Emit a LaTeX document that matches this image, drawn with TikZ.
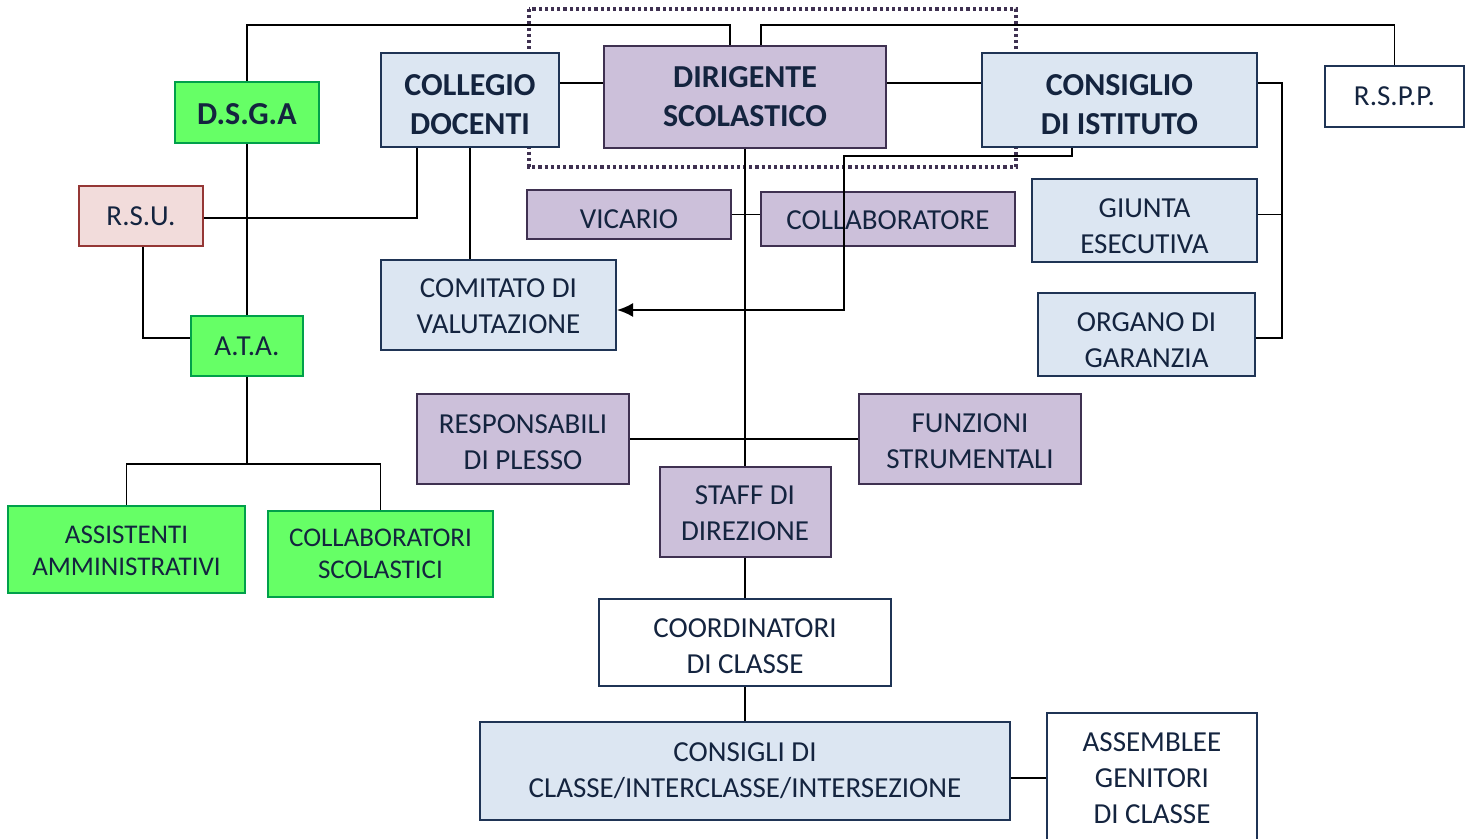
\documentclass[tikz,border=0pt]{standalone}
\usepackage{fontspec}
\setmainfont{Carlito}
\usetikzlibrary{arrows.meta}

\definecolor{txtcol}{HTML}{14243F}
\definecolor{bluefill}{HTML}{DCE6F2}
\definecolor{blueline}{HTML}{1F3455}
\definecolor{violafill}{HTML}{CCC0DA}
\definecolor{violaline}{HTML}{3F3151}
\definecolor{verdefill}{HTML}{66FF66}
\definecolor{verdeline}{HTML}{00A04A}
\definecolor{rsufill}{HTML}{F2DCDB}
\definecolor{rsuline}{HTML}{953735}

% strut that pushes the text down inside its box
\newcommand{\sotto}[1]{\rule{0pt}{#1}}

\begin{document}
\begin{tikzpicture}[x=0.5pt, y=-0.5pt,
    box/.style={draw, line width=1pt, inner sep=0pt, align=center, text=txtcol,
        font=\fontsize{14.5}{18}\selectfont},
    bold/.style={font=\fontsize{16}{19.5}\selectfont\bfseries},
    small/.style={font=\fontsize{13.5}{16}\selectfont},
    blu/.style={box, fill=bluefill, draw=blueline},
    viola/.style={box, fill=violafill, draw=violaline},
    verde/.style={box, fill=verdefill, draw=verdeline},
    bianco/.style={box, fill=white, draw=blueline},
    link/.style={line width=0.75pt},
    freccia/.style={line width=1pt, -{Latex[length=8pt,width=7pt]}}]

    \clip (0,0) rectangle (1469,839);

    % Staff dotted frame
    \draw[violaline, line width=1.75pt, dash pattern=on 1.6pt off 1.5pt] (529,9) rectangle (1016,167);

    % Top row
    \node[verde, bold, minimum width=72pt, minimum height=30.5pt] (dsga) at (247,112.5) {\sotto{12pt}D.S.G.A};
    \node[blu, bold, minimum width=89pt, minimum height=47pt] (coll) at (470,100) {\sotto{15pt}COLLEGIO\\DOCENTI};
    \node[viola, bold, minimum width=141pt, minimum height=51pt] (dir) at (745,97) {DIRIGENTE\\SCOLASTICO};
    \node[blu, bold, minimum width=137.5pt, minimum height=47pt] (cdi) at (1119.5,100) {\sotto{15pt}CONSIGLIO\\DI ISTITUTO};
    \node[bianco, minimum width=69.5pt, minimum height=30.5pt] (rspp) at (1394.5,96.5) {R.S.P.P.};

    % Second row
    \node[box, fill=rsufill, draw=rsuline, minimum width=62pt, minimum height=30pt] (rsu) at (141,216) {R.S.U.};
    \node[viola, minimum width=102pt, minimum height=24.5pt] (vic) at (629,214.5) {\sotto{14pt}VICARIO};
    \node[viola, minimum width=127pt, minimum height=27pt] (colab) at (888,219) {\sotto{11pt}COLLABORATORE};
    \node[blu, minimum width=112.5pt, minimum height=41.5pt] (giu) at (1144.5,220.5) {\sotto{15pt}GIUNTA\\ESECUTIVA};
    \node[blu, minimum width=117.5pt, minimum height=45pt] (com) at (498.5,305) {\sotto{11pt}COMITATO DI\\VALUTAZIONE};
    \node[blu, minimum width=108.5pt, minimum height=41.5pt] (org) at (1146.5,334.5) {\sotto{15pt}ORGANO DI\\GARANZIA};
    \node[verde, minimum width=56pt, minimum height=30pt] (ata) at (247,346) {A.T.A.};

    % Middle row
    \node[viola, minimum width=106pt, minimum height=45pt] (resp) at (523,439) {\sotto{12.5pt}RESPONSABILI\\DI PLESSO};
    \node[viola, minimum width=111pt, minimum height=45pt] (fun) at (970,439) {\sotto{12pt}FUNZIONI\\STRUMENTALI};
    \node[viola, minimum width=85.5pt, minimum height=45pt] (staff) at (745,512) {\sotto{11pt}STAFF DI\\DIREZIONE};
    \node[verde, small, minimum width=118.5pt, minimum height=43.5pt] (ass) at (126.5,549.5) {\sotto{10.5pt}ASSISTENTI\\AMMINISTRATIVI};
    \node[verde, small, minimum width=112.5pt, minimum height=43pt] (cols) at (380.5,554) {COLLABORATORI\\SCOLASTICI};

    % Bottom row
    \node[bianco, minimum width=146pt, minimum height=43.5pt] (coord) at (745,642.5) {\sotto{13.5pt}COORDINATORI\\DI CLASSE};
    \node[blu, minimum width=265pt, minimum height=49pt] (cons) at (745,771) {CONSIGLI DI\\CLASSE/INTERCLASSE/INTERSEZIONE};
    \node[bianco, minimum width=105pt, minimum height=65pt] (gen) at (1152,778) {ASSEMBLEE\\GENITORI\\DI CLASSE};

    % Connectors
    \draw[link] ([xshift=-7.5pt]dir.north) -- ++(0,-20) -| (dsga.north);
    \draw[link] ([xshift=8pt]dir.north) -- ++(0,-20) -| (rspp.north);
    \draw[link] ([yshift=8.5pt]coll.east) -- ([yshift=8.5pt]coll.east -| dir.west);
    \draw[link] ([yshift=8.5pt]cdi.west) -- ([yshift=8.5pt]cdi.west -| dir.east);
    \draw[link] (dsga) -- (ata);
    \draw[link] ([yshift=-1pt]rsu.east) -| ([xshift=-26.5pt]coll.south);
    \draw[link] (coll.south) -- (coll.south |- com.north);
    \draw[link] ([xshift=1pt]rsu.south) |- ([yshift=4pt]ata.west);
    \draw[link] (ata.south) -- ++(0,87) coordinate (fork);
    \draw[link] (ass.north) |- (fork) -| (cols.north);
    \draw[link] (dir.south) -- (staff.north);
    \draw[link] (vic.east) -- (vic.east -| colab.west);
    \draw[link] (resp.east) -- (fun.west);
    \draw[link] (staff.south) -- (coord.north);
    \draw[link] (coord.south) -- (cons.north);
    \draw[link] (gen.west) -- (gen.west -| cons.east);
    \draw[link] ([yshift=8.5pt]cdi.east) -- ++(24,0) coordinate (bus) |- ([yshift=-1.75pt]org.east);
    \draw[link] ([yshift=3pt]giu.east -| bus) -- ([yshift=3pt]giu.east);

    % Arrow to the evaluation committee
    \draw[freccia] ([xshift=-23.75pt]cdi.south) -- ++(0,8) -- ++(-228,0) |- ([yshift=-2.5pt]com.east);
\end{tikzpicture}
\end{document}
